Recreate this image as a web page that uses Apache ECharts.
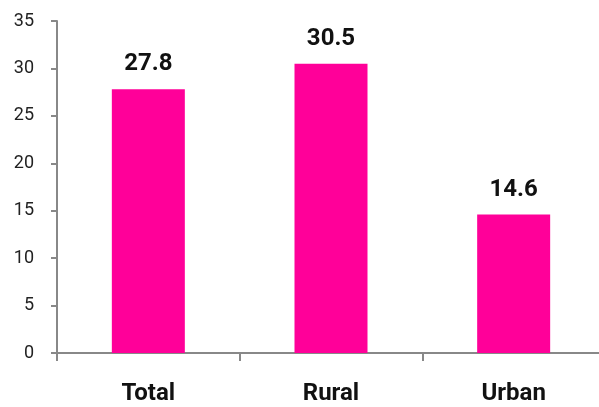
<!DOCTYPE html>
<html><head><meta charset="utf-8">
<script src="https://cdn.jsdelivr.net/npm/echarts@6/dist/echarts.min.js"></script>
<style>html,body{margin:0;padding:0;background:#fff;overflow:hidden;width:599px;height:407px}#c{width:606px;height:407px}</style>
</head><body><div id="c"></div>
<script>
const categories = ['Total', 'Rural', 'Urban'];
const values = [27.8, 30.5, 14.6];
const yTicks = [0, 5, 10, 15, 20, 25, 30, 35];

const chart = echarts.init(document.getElementById('c'), null, {renderer: 'canvas'});
chart.setOption({
  animation: false,
  grid: {left: 57, right: 1, top: 21, bottom: 54, containLabel: false},
  xAxis: {
    type: 'category', data: categories,
    axisLine: {lineStyle: {color: '#888', width: 2}},
    axisTick: {show: true, alignWithLabel: false, length: 8, lineStyle: {color: '#888', width: 2}},
    axisLabel: {color: '#111', fontFamily: 'Roboto', fontWeight: 'bold', fontSize: 24, margin: 29}
  },
  yAxis: {
    type: 'value', min: yTicks[0], max: yTicks[yTicks.length - 1], interval: 5,
    splitLine: {show: false},
    axisLine: {show: true, lineStyle: {color: '#888', width: 2}},
    axisTick: {show: true, length: 6, lineStyle: {color: '#888', width: 2}},
    axisLabel: {color: '#222', fontFamily: 'Roboto', fontSize: 18, margin: 23}
  },
  series: [{
    type: 'bar', data: values, barWidth: 73,
    itemStyle: {color: '#FF0099'},
    label: {show: true, position: 'top', distance: 13, color: '#111', fontFamily: 'Roboto', fontWeight: 'bold', fontSize: 24,
      formatter: p => p.value.toFixed(1)}
  }]
});
</script></body></html>
